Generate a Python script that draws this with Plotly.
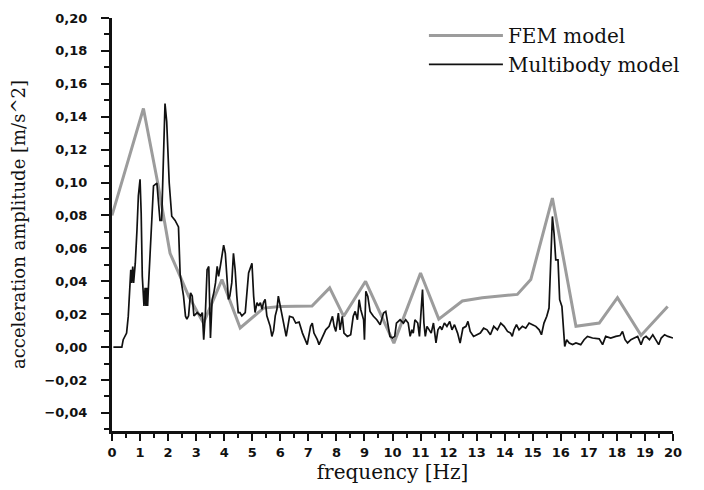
import plotly.graph_objects as go

# FEM model (gray)
fem_freq = [0.0, 1.12, 1.65, 2.07, 2.43, 2.73, 3.26, 3.92, 4.57, 5.40, 6.00, 7.13, 7.76, 8.26,
            9.04, 10.05, 11.00, 11.65, 12.49, 13.20, 14.45, 14.93, 15.70, 16.54, 17.37, 18.02,
            18.86, 19.81]
fem_amp = [0.080, 0.145, 0.098, 0.057, 0.043, 0.031, 0.0146, 0.041, 0.0116, 0.0237, 0.0247, 0.025,
           0.036, 0.0187, 0.040, 0.0024, 0.045, 0.017, 0.028, 0.030, 0.032, 0.041, 0.0906, 0.0126,
           0.0146, 0.030, 0.0071, 0.0247]

# Multibody model (black)
mb_freq = [0.05, 0.35, 0.40, 0.52, 0.58, 0.64, 0.67, 0.70, 0.74, 0.77, 0.83, 0.89, 0.94, 1.00,
           1.04, 1.08, 1.14, 1.18, 1.21, 1.24, 1.27, 1.30, 1.37, 1.42, 1.48, 1.60, 1.65, 1.71,
           1.77, 1.83, 1.89, 1.95, 1.99, 2.04, 2.13, 2.25, 2.37, 2.43, 2.55, 2.62, 2.67, 2.73,
           2.80, 2.86, 2.92, 3.04, 3.16, 3.22, 3.27, 3.33, 3.39, 3.45, 3.51, 3.57, 3.63, 3.69,
           3.75, 3.80, 3.87, 3.92, 3.98, 4.04, 4.10, 4.15, 4.20, 4.27, 4.33, 4.39, 4.45, 4.50,
           4.56, 4.63, 4.75, 4.87, 4.93, 4.99, 5.05, 5.10, 5.17, 5.23, 5.29, 5.35, 5.40, 5.46,
           5.52, 5.64, 5.70, 5.76, 5.82, 5.88, 5.93,
           6.09, 6.21, 6.33, 6.45, 6.55, 6.67, 6.79, 6.90, 6.96, 7.08, 7.14, 7.20, 7.32, 7.38,
           7.50, 7.62, 7.74, 7.86, 7.92, 7.98, 8.07, 8.13, 8.21, 8.27, 8.39, 8.51, 8.60, 8.67,
           8.75, 8.81, 8.87, 8.93, 8.97, 9.00, 9.05, 9.12, 9.20, 9.32, 9.44, 9.56, 9.68, 9.76,
           9.83, 9.91, 10.00, 10.08, 10.14, 10.27, 10.39, 10.47, 10.56, 10.63, 10.69, 10.74,
           10.80, 10.90, 10.96, 11.02, 11.07, 11.12, 11.17, 11.23, 11.31, 11.38, 11.46, 11.55,
           11.62, 11.70, 11.76, 11.85, 11.94, 12.04, 12.12, 12.21, 12.32, 12.41, 12.51, 12.62,
           12.69, 12.77, 12.89, 13.00, 13.13, 13.25, 13.37, 13.49, 13.61, 13.74, 13.86, 13.98,
           14.10, 14.21, 14.27, 14.33, 14.42, 14.51, 14.63, 14.75, 14.87, 14.99, 15.11, 15.23,
           15.31, 15.40, 15.50, 15.58, 15.64, 15.70, 15.76, 15.82, 15.90, 15.96, 16.04, 16.10,
           16.14, 16.21, 16.30, 16.42, 16.54, 16.71, 16.83, 16.95, 17.13, 17.37, 17.49, 17.60,
           17.78, 17.96, 18.11, 18.20, 18.29, 18.38, 18.50, 18.62, 18.74, 18.86, 18.95, 19.04,
           19.16, 19.28, 19.40, 19.49, 19.58, 19.70, 19.82, 20.00]
mb_amp = [0.0, 0.0, 0.0045, 0.0085, 0.0188, 0.039, 0.047, 0.039, 0.049, 0.039, 0.051, 0.071,
          0.092, 0.102, 0.0815, 0.043, 0.025, 0.036, 0.025, 0.036, 0.025, 0.037, 0.061, 0.0845,
          0.098, 0.0997, 0.0895, 0.077, 0.077, 0.111, 0.148, 0.137, 0.114, 0.0997, 0.0795,
          0.077, 0.073, 0.044, 0.031, 0.0188, 0.017, 0.019, 0.033, 0.031, 0.019, 0.021, 0.019,
          0.021, 0.0045, 0.021, 0.047, 0.049, 0.0055, 0.0288, 0.033, 0.039, 0.049, 0.043, 0.050,
          0.057, 0.062, 0.057, 0.039, 0.029, 0.031, 0.039, 0.057, 0.047, 0.031, 0.021, 0.021,
          0.019, 0.021, 0.045, 0.048, 0.051, 0.031, 0.021, 0.027, 0.025, 0.027, 0.023, 0.027,
          0.029, 0.019, 0.0126, 0.0065, 0.010, 0.019, 0.023, 0.031,
          0.0166, 0.0065, 0.0187, 0.018, 0.0146, 0.0152, 0.0085, 0.0045, 0.0015, 0.0126, 0.0146,
          0.0085, 0.0045, 0.0015, 0.0065, 0.0105, 0.0126, 0.0187, 0.0126, 0.0095, 0.0207, 0.0105,
          0.0187, 0.0085, 0.0065, 0.0075, 0.0187, 0.0217, 0.0166, 0.0288, 0.0227, 0.0177, 0.0166,
          0.0045, 0.0339, 0.0308, 0.0217, 0.0187, 0.0166, 0.0136, 0.0207, 0.0217, 0.0146, 0.0065,
          0.0055, 0.0065, 0.0146, 0.0166, 0.0146, 0.0166, 0.0146, 0.0065, 0.0105, 0.0085, 0.0166,
          0.0146, 0.0065, 0.0197, 0.0349, 0.0146, 0.0065, 0.0126, 0.0105, 0.0085, 0.0146, 0.0025,
          0.0105, 0.0126, 0.0105, 0.0146, 0.0126, 0.0156, 0.0105, 0.0136, 0.0085, 0.0025, 0.0115,
          0.0126, 0.0156, 0.0095, 0.0065, 0.0075, 0.0085, 0.0115, 0.0105, 0.0075, 0.0126, 0.0105,
          0.0146, 0.0126, 0.0095, 0.0085, 0.0065, 0.0105, 0.0136, 0.0105, 0.0126, 0.0115, 0.0146,
          0.0136, 0.0126, 0.0105, 0.0075, 0.0146, 0.0187, 0.0237, 0.053, 0.0794, 0.069, 0.053,
          0.053, 0.0288, 0.0247, 0.0105, 0.0004, 0.0045, 0.0025, 0.0015, 0.0025, 0.0015, 0.0045,
          0.0065, 0.0055, 0.005, 0.0015, 0.0065, 0.0055, 0.0065, 0.007, 0.0095, 0.0045, 0.0025,
          0.0045, 0.0055, 0.0065, 0.0015, 0.0055, 0.0065, 0.0045, 0.0075, 0.0045, 0.0015, 0.0055,
          0.0075, 0.0065, 0.0055]

x_ticks = list(range(0, 21))
y_ticks = [-0.04, -0.02, 0.0, 0.02, 0.04, 0.06, 0.08, 0.10, 0.12, 0.14, 0.16, 0.18, 0.20]

fig = go.Figure()
fig.add_trace(go.Scatter(x=fem_freq, y=fem_amp, mode="lines", name="FEM model",
                         line=dict(color="#9c9c9c", width=3)))
fig.add_trace(go.Scatter(x=mb_freq, y=mb_amp, mode="lines", name="Multibody model",
                         line=dict(color="#111111", width=1.7)))

tickfont = dict(family="DejaVu Sans", size=13, color="#111111", weight="bold")
ytitlefont = dict(family="DejaVu Serif", size=18, color="#111111")
xtitlefont = dict(family="DejaVu Serif", size=20, color="#111111")

# page body adds an 8px offset, so the figure is positioned to compensate
fig.update_layout(
    width=696, height=485,
    margin=dict(l=104, r=31, t=10, b=62, autoexpand=False),
    paper_bgcolor="white", plot_bgcolor="white",
    separators=",.",
    showlegend=True,
    legend=dict(x=0.556, y=1.005, xanchor="left", yanchor="top",
                font=dict(family="DejaVu Serif", size=20, color="#111111"),
                bgcolor="rgba(0,0,0,0)", itemwidth=74, tracegroupgap=4),
    xaxis=dict(range=[0, 20], tickvals=x_ticks, ticks="outside", ticklen=7, tickwidth=2,
               tickcolor="#111111", showline=True, linewidth=3, linecolor="#111111",
               showgrid=False, zeroline=False, tickfont=tickfont, ticklabelstandoff=0,
               automargin=False,
               minor=dict(dtick=0.5, ticks="outside", ticklen=4, tickwidth=2, tickcolor="#111111"),
               title=dict(text="frequency [Hz]", font=xtitlefont, standoff=5)),
    yaxis=dict(range=[-0.051, 0.20], tickvals=y_ticks, tickformat=".2f", ticks="outside",
               ticklen=8, tickwidth=2, tickcolor="#111111", showline=True, linewidth=3,
               linecolor="#111111", showgrid=False, zeroline=False, tickfont=tickfont,
               ticklabelstandoff=11, automargin=False,
               minor=dict(dtick=0.01, ticks="outside", ticklen=5, tickwidth=2, tickcolor="#111111"),
               title=dict(text="acceleration amplitude [m/s^2]", font=ytitlefont, standoff=18)),
)

fig.write_html("out.html")
